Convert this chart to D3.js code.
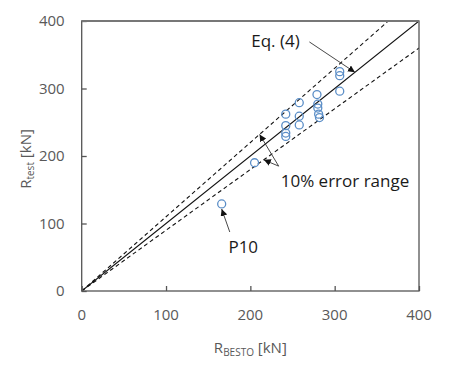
<!DOCTYPE html>
<html><head><meta charset="utf-8">
<script src="https://cdn.jsdelivr.net/npm/d3@7"></script>
<style>body{margin:0;background:#fff}svg{display:block}</style>
</head><body>
<script>
// data
const besto = [166, 205, 242, 242, 242, 242, 258, 258, 258, 279, 280, 280, 281, 282, 306, 306, 306];
const test  = [129, 190, 262, 245, 234, 229, 279, 259, 246, 291, 277, 271, 262, 257, 325, 319, 296];
const tickValues = [0, 100, 200, 300, 400];
const ratios = [1.0, 1.1, 0.9];

const W = 450, H = 369;
const m = {l: 81.7, r: 419, t: 21, b: 291};
const x = d3.scaleLinear().domain([0, 400]).range([m.l, m.r]);
const y = d3.scaleLinear().domain([0, 400]).range([m.b, m.t]);

const svg = d3.select("body").append("svg").attr("width", W).attr("height", H);
const font = "'Open Sans', 'Noto Sans', sans-serif";

const defs = svg.append("defs");
defs.append("marker").attr("id", "ah").attr("viewBox", "0 0 10 10").attr("refX", 10).attr("refY", 5)
  .attr("markerWidth", 7).attr("markerHeight", 7).attr("orient", "auto-start-reverse").attr("markerUnits", "userSpaceOnUse")
  .append("path").attr("d", "M0,0 L10,5 L0,10 z").attr("fill", "#111");

const clip = defs.append("clipPath").attr("id", "pc");
clip.append("rect").attr("x", m.l).attr("y", m.t).attr("width", m.r - m.l).attr("height", m.b - m.t);

// ratio lines
const g = svg.append("g").attr("clip-path", "url(#pc)");
ratios.forEach(r => {
  g.append("line").attr("x1", x(0)).attr("y1", y(0)).attr("x2", x(400)).attr("y2", y(400 * r))
    .attr("stroke", "#111").attr("stroke-width", 1.1)
    .attr("stroke-dasharray", r === 1 ? null : "4,3");
});

// axes
const axL = svg.append("g").attr("transform", `translate(${m.l},0)`)
  .call(d3.axisRight(y).tickValues(tickValues).tickSize(5).tickFormat(""));
const axB = svg.append("g").attr("transform", `translate(0,${m.b})`)
  .call(d3.axisTop(x).tickValues(tickValues).tickSize(5).tickFormat(""));
[axL, axB].forEach(a => { a.selectAll("path,line").attr("stroke", "#555").attr("stroke-width", 1.3); });
axL.select(".domain").remove(); axB.select(".domain").remove();
// frame
svg.append("rect").attr("x", m.l).attr("y", m.t).attr("width", m.r - m.l).attr("height", m.b - m.t)
  .attr("fill", "none").attr("stroke", "#555").attr("stroke-width", 1.3);
svg.append("line").attr("x1", m.l).attr("x2", m.r).attr("y1", m.t).attr("y2", m.t)
  .attr("stroke", "#777").attr("stroke-width", 2);

// tick labels
svg.append("g").selectAll("text").data(tickValues).join("text")
  .attr("x", m.l - 17).attr("y", d => y(d)).attr("dy", "0.35em").attr("text-anchor", "end")
  .attr("font-family", font).attr("font-size", 15).attr("fill", "#595959").text(d => d);
svg.append("g").selectAll("text").data(tickValues).join("text")
  .attr("x", d => x(d)).attr("y", m.b + 29).attr("text-anchor", "middle")
  .attr("font-family", font).attr("font-size", 15).attr("fill", "#595959").text(d => d);

// axis titles
const xt = svg.append("text").attr("x", (m.l + m.r) / 2).attr("y", 353).attr("text-anchor", "middle")
  .attr("font-family", font).attr("font-size", 15).attr("fill", "#595959");
xt.append("tspan").text("R");
xt.append("tspan").attr("font-size", 10).attr("dy", 3).text("BESTO");
xt.append("tspan").attr("dy", -3).text(" [kN]");
const yt = svg.append("text").attr("transform", `translate(31,${(m.t + m.b) / 2 + 3}) rotate(-90)`)
  .attr("text-anchor", "middle").attr("font-family", font).attr("font-size", 15).attr("fill", "#595959");
yt.append("tspan").text("R");
yt.append("tspan").attr("font-size", 10).attr("dy", 3).text("test");
yt.append("tspan").attr("dy", -3).text(" [kN]");

// points
svg.append("g").selectAll("circle").data(besto).join("circle")
  .attr("cx", d => x(d)).attr("cy", (d, i) => y(test[i])).attr("r", 4)
  .attr("fill", "none").attr("stroke", "#5b8ec7").attr("stroke-width", 1.3);

// annotations (data coordinates)
function arrow(x1, y1, x2, y2) {
  svg.append("line").attr("x1", x(x1)).attr("y1", y(y1)).attr("x2", x(x2)).attr("y2", y(y2))
    .attr("stroke", "#333").attr("stroke-width", 0.9).attr("marker-end", "url(#ah)");
}
function label(tx, ty, s) {
  svg.append("text").attr("x", x(tx)).attr("y", y(ty)).attr("font-family", font)
    .attr("font-size", 17).attr("fill", "#1a1a1a").text(s);
}
label(201, 362, "Eq. (4)");
arrow(270, 369, 324, 324);
label(236, 154, "10% error range");
arrow(233.6, 185, 211, 232);
arrow(233.6, 185, 216, 194.3);
label(174, 56, "P10");
arrow(175.6, 87.4, 166, 121.5);
</script>
</body></html>
